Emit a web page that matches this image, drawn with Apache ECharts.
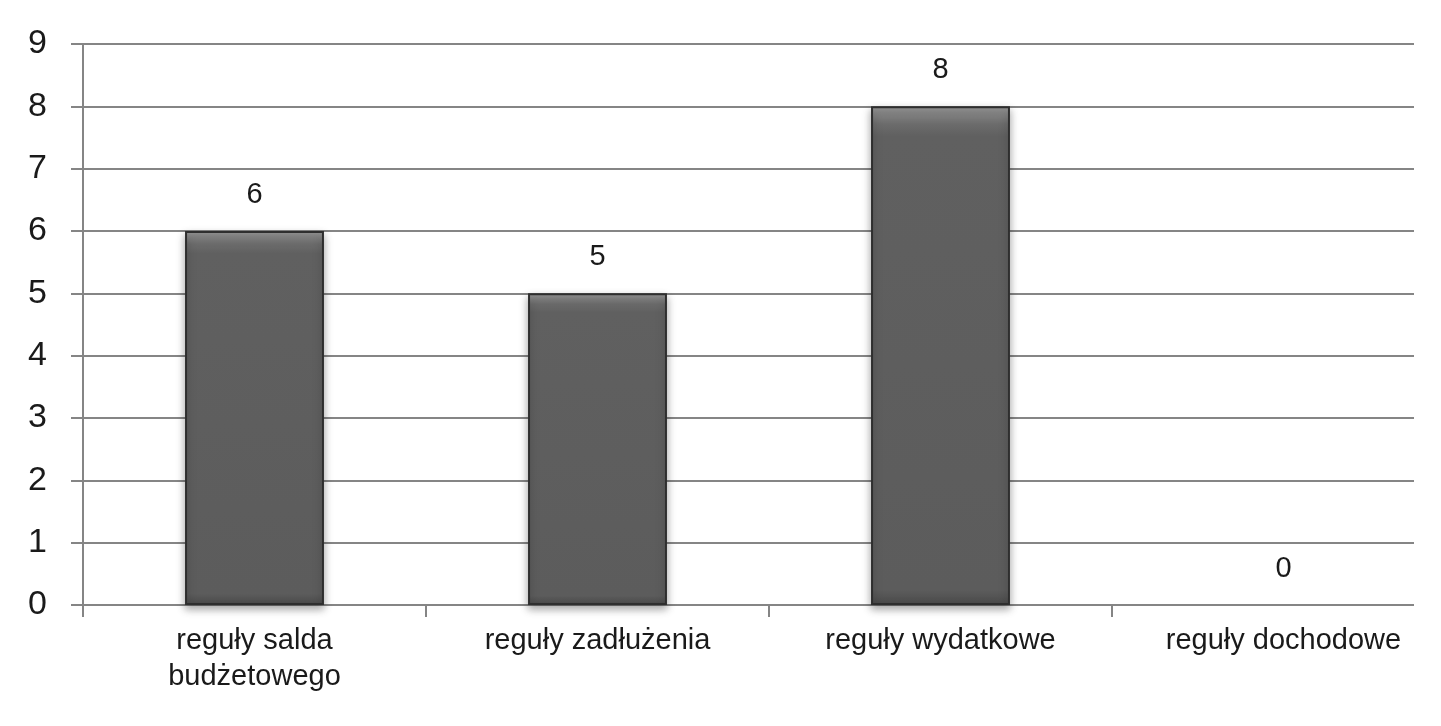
<!DOCTYPE html>
<html>
<head>
<meta charset="utf-8">
<script src="https://cdn.jsdelivr.net/npm/echarts@6/dist/echarts.min.js"></script>
<style>html,body{margin:0;padding:0;background:#fff}#c{width:1441px;height:726px}</style>
</head>
<body>
<div id="c"></div>
<script>
const categories = ['reguły salda\nbudżetowego', 'reguły zadłużenia', 'reguły wydatkowe', 'reguły dochodowe'];
const values = [6, 5, 8, 0];
const yTicks = { min: 0, max: 9, interval: 1 };

const chart = echarts.init(document.getElementById('c'), null, { renderer: 'canvas' });
const font = '"Liberation Sans", Arial, sans-serif';
const lineCol = '#858585';
chart.setOption({
  animation: false,
  backgroundColor: '#fff',
  grid: { left: 83, top: 44, width: 1372, height: 561, containLabel: false, outerBoundsMode: 'none' },
  xAxis: {
    type: 'category',
    data: categories,
    boundaryGap: true,
    axisLine: { show: true, lineStyle: { color: lineCol, width: 2 } },
    axisTick: { show: true, length: 12, alignWithLabel: false, lineStyle: { color: lineCol, width: 2 } },
    axisLabel: { color: '#1a1a1a', fontFamily: font, fontSize: 29, lineHeight: 36, margin: 18, interval: 0 }
  },
  yAxis: {
    type: 'value',
    min: yTicks.min, max: yTicks.max, interval: yTicks.interval,
    axisLine: { show: true, lineStyle: { color: lineCol, width: 2 } },
    axisTick: { show: true, length: 12, lineStyle: { color: lineCol, width: 2 } },
    splitLine: { show: true, lineStyle: { color: lineCol, width: 2 } },
    axisLabel: { color: '#1a1a1a', fontFamily: font, fontSize: 34, margin: 36 }
  },
  series: [{
    type: 'bar',
    data: values.map(v => v === 0 ? { value: v, itemStyle: { borderWidth: 0, shadowBlur: 0, opacity: 0 } } : v),
    barWidth: '40.5%',
    itemStyle: {
      color: {
        type: 'linear', x: 0, y: 0, x2: 0, y2: 1,
        colorStops: [
          { offset: 0, color: '#9a9a9a' },
          { offset: 0.035, color: '#6c6c6c' },
          { offset: 0.06, color: '#606060' },
          { offset: 0.97, color: '#5c5c5c' },
          { offset: 1, color: '#4a4a4a' }
        ]
      },
      borderColor: '#2e2e2e',
      borderWidth: 2,
      shadowColor: 'rgba(0,0,0,0.35)',
      shadowBlur: 8,
      shadowOffsetY: 4
    },
    label: {
      show: true, position: 'top', distance: 22,
      color: '#1a1a1a', fontFamily: font, fontSize: 29, opacity: 1
    }
  }],
  graphic: [{
    type: 'rect', z: 100,
    shape: { x: 1414, y: 0, width: 40, height: 622 },
    style: { fill: '#fff' }
  }]
});
</script>
</body>
</html>
